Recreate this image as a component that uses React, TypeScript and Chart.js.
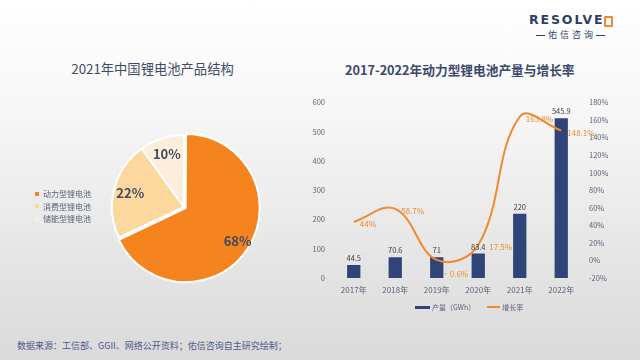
import React, { useEffect, useRef } from "react";
import { Chart, registerables } from "chart.js";

Chart.register(...registerables);

// ---- data ----
const pieLabels = ["动力型锂电池", "消费型锂电池", "储能型锂电池"];
const pieValues = [68, 22, 10];
const pieColors = ["#F5841F", "#FCD89E", "#FDEEDC"];

const years = ["2017年", "2018年", "2019年", "2020年", "2021年", "2022年"];
const outputGWh = [44.5, 70.6, 71, 83.4, 220, 545.9];
const growthRate = [44, 58.7, 0.6, 17.5, 163.8, 148.1];
const growthText = ["44%", "58.7%", "0.6%", "17.5%", "163.8%", "148.1%"];

const leftAxis = { min: 0, max: 600, step: 100 };
const rightAxis = { min: -20, max: 180, step: 20 };

const FONT = '"Noto Sans CJK SC", "Open Sans", sans-serif';
const NAVY = "#2F4478";
const ORANGE = "#F08A2C";
const TICK = "#5A6378";

const pieLabelPlugin = {
  id: "pieLabels",
  afterDatasetsDraw(chart: any) {
    const ctx = chart.ctx;
    const meta = chart.getDatasetMeta(0);
    const ds = chart.data.datasets[0];
    ctx.save();
    ctx.font = `bold 13px ${FONT}`;
    ctx.fillStyle = "#404A60";
    ctx.textAlign = "center";
    ctx.textBaseline = "middle";
    meta.data.forEach((arc: any, i: number) => {
      const p = arc.getProps(["x", "y", "startAngle", "endAngle", "outerRadius"], true);
      const mid = (p.startAngle + p.endAngle) / 2;
      const off = Array.isArray(ds.offset) ? ds.offset[i] : 0;
      const d = p.outerRadius * 0.77 + off;
      ctx.fillText(pieValues[i] + "%", p.x + Math.cos(mid) * d, p.y + Math.sin(mid) * d);
    });
    ctx.restore();
  },
};

const barLabelPlugin = {
  id: "barLabels",
  afterDatasetsDraw(chart: any) {
    const ctx = chart.ctx;
    ctx.save();
    // bar values
    const barMeta = chart.getDatasetMeta(0);
    ctx.font = `7.5px ${FONT}`;
    ctx.fillStyle = "#404040";
    ctx.textAlign = "center";
    ctx.textBaseline = "bottom";
    barMeta.data.forEach((bar: any, i: number) => {
      ctx.fillText(String(outputGWh[i]), bar.x, bar.y - 3);
    });
    // growth labels
    const lineMeta = chart.getDatasetMeta(1);
    ctx.font = `8px ${FONT}`;
    ctx.textAlign = "left";
    ctx.textBaseline = "middle";
    lineMeta.data.forEach((pt: any, i: number) => {
      let dx = 6;
      let dy = 2;
      if (i === 2) {
        dx = 13;
        dy = 14;
        ctx.strokeStyle = "#B0A090";
        ctx.lineWidth = 0.8;
        ctx.beginPath();
        ctx.moveTo(pt.x + 7, pt.y + dy);
        ctx.lineTo(pt.x + 10, pt.y + dy);
        ctx.stroke();
      }
      if (i === 3) {
        dx = 11;
      }
      ctx.fillStyle = ORANGE;
      ctx.fillText(growthText[i], pt.x + dx, pt.y + dy);
    });
    ctx.restore();
  },
};

function PieChart() {
  const ref = useRef<HTMLCanvasElement>(null);
  useEffect(() => {
    const chart = new Chart(ref.current!, {
      type: "pie",
      data: {
        labels: pieLabels,
        datasets: [
          {
            data: pieValues,
            backgroundColor: pieColors,
            borderColor: "#FFFFFF",
            borderWidth: 2,
            offset: [8, 0, 0],
          } as any,
        ],
      },
      options: {
        responsive: false,
        animation: false,
        radius: 72,
        layout: { padding: 0 },
        plugins: { legend: { display: false }, tooltip: { enabled: false } },
      } as any,
      plugins: [pieLabelPlugin],
    });
    return () => chart.destroy();
  }, []);
  return (
    <canvas
      ref={ref}
      width={200}
      height={200}
      style={{ position: "absolute", left: 84, top: 107, width: 200, height: 200 }}
    />
  );
}

function BarLineChart() {
  const ref = useRef<HTMLCanvasElement>(null);
  useEffect(() => {
    const chart = new Chart(ref.current!, {
      type: "bar",
      data: {
        labels: years,
        datasets: [
          {
            type: "bar",
            label: "产量（GWh）",
            data: outputGWh,
            backgroundColor: NAVY,
            yAxisID: "y",
            categoryPercentage: 1,
            barPercentage: 0.32,
            order: 2,
          },
          {
            type: "line",
            label: "增长率",
            data: growthRate,
            borderColor: ORANGE,
            backgroundColor: ORANGE,
            borderWidth: 2,
            pointRadius: 0,
            tension: 0.4,
            yAxisID: "y1",
            order: 1,
          },
        ] as any,
      },
      options: {
        responsive: false,
        animation: false,
        layout: { padding: { top: 10, left: 0, right: 0, bottom: 0 } },
        plugins: { legend: { display: false }, tooltip: { enabled: false } },
        scales: {
          x: {
            grid: { display: false, drawTicks: false },
            border: { display: false },
            ticks: { color: TICK, font: { size: 8, family: FONT }, padding: 7 },
            afterFit: (s: any) => {
              s.height = 42;
            },
          },
          y: {
            position: "left",
            min: leftAxis.min,
            max: leftAxis.max,
            grid: { display: false, drawTicks: false },
            border: { display: false },
            ticks: { stepSize: leftAxis.step, color: TICK, font: { size: 7.5, family: FONT }, padding: 8 },
            afterFit: (s: any) => {
              s.width = 33;
            },
          },
          y1: {
            position: "right",
            min: rightAxis.min,
            max: rightAxis.max,
            grid: { display: false, drawTicks: false },
            border: { display: false },
            ticks: {
              stepSize: rightAxis.step,
              color: TICK,
              font: { size: 7.5, family: FONT },
              padding: 7,
              callback: (v: any) => v + "%",
            },
            afterFit: (s: any) => {
              s.width = 53;
            },
          },
        },
      } as any,
      plugins: [barLabelPlugin],
    });
    return () => chart.destroy();
  }, []);
  return (
    <canvas
      ref={ref}
      width={335}
      height={230}
      style={{ position: "absolute", left: 300, top: 90, width: 335, height: 230 }}
    />
  );
}

export default function App() {
  const pieLegend = pieLabels.map((l, i) => (
    <div
      key={l}
      style={{
        position: "absolute",
        left: 35,
        top: 188 + i * 12.5,
        height: 11,
        display: "flex",
        alignItems: "center",
        fontSize: 8,
        color: TICK,
        whiteSpace: "nowrap",
      }}
    >
      <span style={{ width: 4, height: 4, background: pieColors[i], marginRight: 4, display: "inline-block" }} />
      {l}
    </div>
  ));

  return (
    <div
      style={{
        position: "fixed",
        left: 0,
        top: 0,
        width: 640,
        height: 360,
        overflow: "hidden",
        fontFamily: FONT,
        background: "linear-gradient(to bottom, #ffffff 0%, #f7f7f7 30%, #e6e6e6 70%, #dadada 100%)",
      }}
    >
      {/* logo */}
      <div
        style={{
          position: "absolute",
          left: 529,
          top: 12,
          fontSize: 12.5,
          fontWeight: "bold",
          letterSpacing: 1.9,
          color: "#2D3E6B",
          fontFamily: '"DejaVu Sans", sans-serif',
          lineHeight: "16px",
        }}
      >
        RESOLVE
      </div>
      <div
        style={{
          position: "absolute",
          left: 604,
          top: 16,
          width: 5,
          height: 7,
          border: "2px solid #F08A2C",
          borderRadius: 1,
        }}
      />
      <div
        style={{
          position: "absolute",
          left: 536,
          top: 29,
          display: "flex",
          alignItems: "center",
          fontSize: 9,
          color: "#2D3E6B",
          letterSpacing: 3,
          lineHeight: "12px",
        }}
      >
        <span style={{ width: 9, height: 1, background: "#2D3E6B", marginRight: 3 }} />
        佑信咨询
        <span style={{ width: 9, height: 1, background: "#2D3E6B", marginLeft: 0 }} />
      </div>

      {/* titles */}
      <div
        style={{
          position: "absolute",
          left: 0,
          width: 305,
          top: 60,
          textAlign: "center",
          fontSize: 13.3,
          color: "#404C66",
          lineHeight: "18px",
        }}
      >
        2021年中国锂电池产品结构
      </div>
      <div
        style={{
          position: "absolute",
          left: 345,
          top: 61,
          fontSize: 12.7,
          fontWeight: "bold",
          color: "#3B4A6B",
          lineHeight: "18px",
          whiteSpace: "nowrap",
        }}
      >
        2017-2022年动力型锂电池产量与增长率
      </div>

      <PieChart />
      {pieLegend}

      <BarLineChart />

      {/* bar chart legend */}
      <div
        style={{
          position: "absolute",
          left: 415,
          top: 302,
          height: 10,
          display: "flex",
          alignItems: "center",
          fontSize: 7,
          color: TICK,
          whiteSpace: "nowrap",
        }}
      >
        <span style={{ width: 15, height: 3, background: NAVY, marginRight: 2, display: "inline-block" }} />
        产量（GWh）
        <span style={{ width: 13, height: 1.5, background: ORANGE, marginLeft: 12, marginRight: 2, display: "inline-block" }} />
        增长率
      </div>

      {/* footnote */}
      <div
        style={{
          position: "absolute",
          left: 17,
          top: 340,
          fontSize: 9,
          color: "#4B5A8A",
          lineHeight: "12px",
          whiteSpace: "nowrap",
        }}
      >
        数据来源：工信部、GGII、网络公开资料；佑信咨询自主研究绘制；
      </div>
    </div>
  );
}
